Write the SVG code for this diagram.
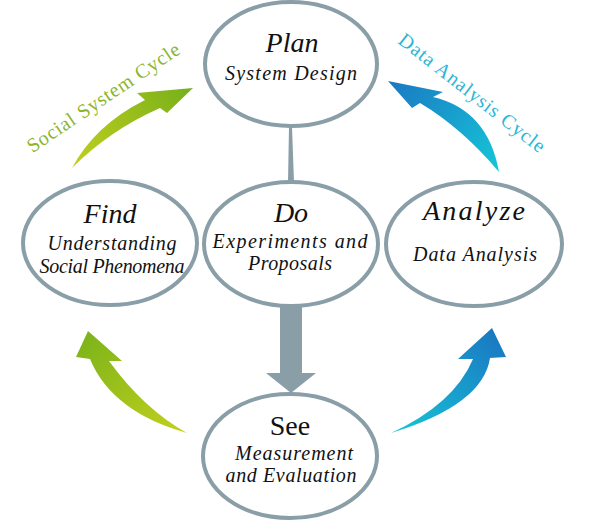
<svg xmlns="http://www.w3.org/2000/svg" width="600" height="522" viewBox="0 0 600 522">
<defs>
<linearGradient id="gTL" gradientUnits="userSpaceOnUse" x1="72" y1="168" x2="193" y2="88"><stop offset="0" stop-color="#c2cf1e"/><stop offset="1" stop-color="#76b01a"/></linearGradient>
<linearGradient id="gBL" gradientUnits="userSpaceOnUse" x1="187" y1="433" x2="88" y2="331"><stop offset="0" stop-color="#c4d01e"/><stop offset="1" stop-color="#7cb41a"/></linearGradient>
<linearGradient id="gTR" gradientUnits="userSpaceOnUse" x1="499" y1="172" x2="388" y2="81"><stop offset="0" stop-color="#16c6d8"/><stop offset="1" stop-color="#1a78c2"/></linearGradient>
<linearGradient id="gBR" gradientUnits="userSpaceOnUse" x1="391" y1="433" x2="492" y2="328"><stop offset="0" stop-color="#16c6d8"/><stop offset="1" stop-color="#1a78c2"/></linearGradient>
<style>
.node{fill:#fff;stroke:#8a9ea8;stroke-width:4}
.t{fill:#111;text-anchor:middle}
.ti{font-size:28px;font-style:italic}
.sub{font-size:20px;font-style:italic}
.cyc{font-size:20px;text-anchor:middle}
.conn{fill:#8a9ea8}
</style>
</defs>
<rect width="600" height="522" fill="#fff"/>
<g id="connectors">
<polygon class="conn" points="289,127 292,127 294,182 288,182"/>
<polygon class="conn" points="280,306 302,306 302,373 316,373 291,393 266,373 280,373"/>
<path fill="url(#gTL)" d="M72,168 Q95,125 145,100 L137,93 L193,88 L167,113 L160,108 Q110,130 72,168 Z"/>
<path fill="url(#gTR)" d="M499,172 Q488,110 433,97 L443,92 L388,81 L412,108 L420,103 Q462,128 499,172 Z"/>
<path fill="url(#gBL)" d="M187,433 Q112,412 90,359 L76,357 L88,331 L122,361 L109,361 Q144,409 187,433 Z"/>
<path fill="url(#gBR)" d="M391,433 Q454,404 473,359 L458,359 L492,328 L506,357 L490,358 Q483,405 391,433 Z"/>
</g>
<g font-family="Liberation Serif, DejaVu Serif, Noto Serif, serif">
<text class="cyc" fill="#8cb52a" transform="translate(107,103) rotate(-34)" textLength="180">Social System Cycle</text>
<text class="cyc" fill="#2bb6d6" transform="translate(468,98) rotate(38)" textLength="180">Data Analysis Cycle</text>
<g id="plan">
<ellipse class="node" cx="291" cy="64" rx="86" ry="62"/>
<text class="t ti" x="292" y="52">Plan</text>
<text class="t sub" x="291" y="80" textLength="132">System Design</text>
</g>
<g id="do">
<ellipse class="node" cx="291" cy="244" rx="87" ry="62"/>
<text class="t ti" x="291" y="222">Do</text>
<text class="t sub" x="290" y="248" textLength="155">Experiments and</text>
<text class="t sub" x="290" y="270" textLength="84">Proposals</text>
</g>
<g id="find">
<ellipse class="node" cx="110" cy="243" rx="87" ry="62"/>
<text class="t ti" x="110" y="223">Find</text>
<text class="t sub" x="112" y="250" textLength="129">Understanding</text>
<text class="t sub" x="112" y="273" textLength="145">Social Phenomena</text>
</g>
<g id="analyze">
<ellipse class="node" cx="474" cy="244" rx="88" ry="62"/>
<text class="t ti" x="474" y="220" textLength="102">Analyze</text>
<text class="t sub" x="475" y="261" textLength="124">Data Analysis</text>
</g>
<g id="see">
<ellipse class="node" cx="290" cy="456" rx="87" ry="62"/>
<text class="t" x="290" y="435" font-size="28">See</text>
<text class="t sub" x="294" y="460" textLength="118">Measurement</text>
<text class="t sub" x="291" y="482" textLength="131">and Evaluation</text>
</g>
</g>
</svg>
